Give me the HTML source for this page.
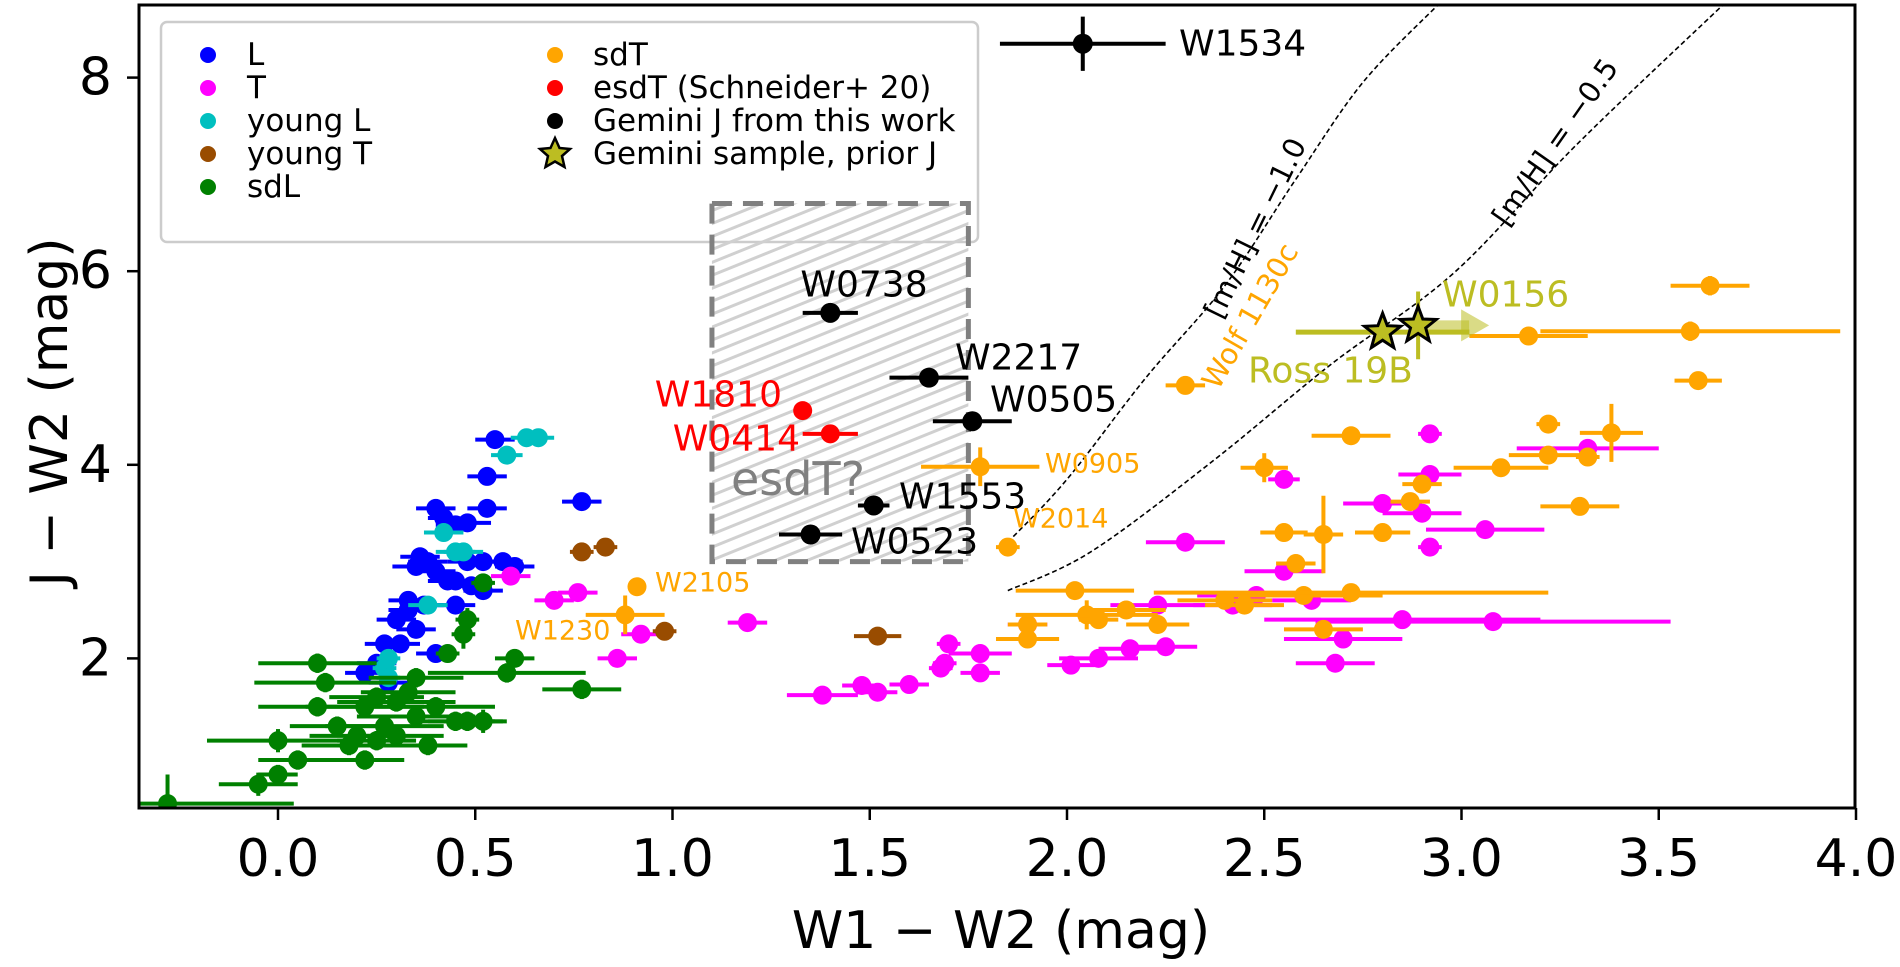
<!DOCTYPE html>
<html><head><meta charset="utf-8">
<style>
html,body{margin:0;padding:0;background:#fff;}
svg{display:block;font-family:"DejaVu Sans","Liberation Sans",sans-serif;}
</style></head>
<body>
<svg id="chart" width="1900" height="967" viewBox="0 0 1900 967" xmlns="http://www.w3.org/2000/svg">
<defs>
<pattern id="hatch" patternUnits="userSpaceOnUse" width="12" height="12" patternTransform="rotate(-22)">
<line x1="0" y1="6" x2="12" y2="6" stroke="#d0d0d0" stroke-width="3"/>
</pattern>
<clipPath id="plotclip"><rect x="139" y="5" width="1716" height="803"/></clipPath>
</defs>
<g id="legend">
<rect x="161" y="22" width="817" height="220" rx="6" fill="#fff" stroke="#ccc" stroke-width="2.5"/>
</g>
<g id="plot" clip-path="url(#plotclip)"></g>
<rect x="139" y="5" width="1716" height="803" fill="none" stroke="#000" stroke-width="3"/>
<g id="axes"></g>
<text x="1001" y="948" font-size="52" text-anchor="middle">W1 − W2 (mag)</text>
<text transform="translate(50,412) rotate(-90)" font-size="52" text-anchor="middle" dominant-baseline="central">J − W2 (mag)</text>
</svg>
<script>
// ---- axis domain ----
const xTicks = [0.0, 0.5, 1.0, 1.5, 2.0, 2.5, 3.0, 3.5, 4.0];
const xTickLabels = ["0.0","0.5","1.0","1.5","2.0","2.5","3.0","3.5","4.0"];
const yTicks = [2, 4, 6, 8];
const yTickLabels = ["2","4","6","8"];
// ---- series: [x, y, xerr, yerr] ----
const seriesL = [[0.53,3.88,0.05,0.05],[0.55,4.26,0.05,0.05],[0.40,3.55,0.05,0.05],[0.53,3.55,0.05,0.05],[0.45,3.38,0.05,0.05],[0.42,3.45,0.04,0.05],[0.48,3.40,0.06,0.05],[0.36,3.05,0.05,0.05],[0.38,3.00,0.05,0.05],[0.35,2.95,0.06,0.05],[0.48,3.00,0.05,0.05],[0.52,3.00,0.05,0.05],[0.57,3.00,0.05,0.05],[0.40,2.90,0.05,0.05],[0.43,2.80,0.05,0.05],[0.45,2.80,0.05,0.05],[0.49,2.75,0.05,0.05],[0.52,2.70,0.05,0.05],[0.33,2.60,0.05,0.05],[0.37,2.55,0.05,0.05],[0.45,2.55,0.05,0.05],[0.30,2.40,0.05,0.05],[0.35,2.30,0.05,0.05],[0.27,2.15,0.05,0.05],[0.31,2.15,0.05,0.05],[0.40,2.05,0.05,0.05],[0.25,1.95,0.05,0.05],[0.22,1.85,0.05,0.05],[0.77,3.62,0.05,0.05],[0.60,2.95,0.05,0.05],[0.33,2.50,0.05,0.05],[0.28,1.75,0.05,0.05]];
const seriesT = [[0.59,2.85,0.05,0.05],[0.70,2.60,0.05,0.05],[0.76,2.68,0.05,0.05],[0.92,2.25,0.05,0.05],[0.86,2.00,0.05,0.05],[1.19,2.37,0.05,0.05],[1.38,1.62,0.09,0.05],[1.48,1.72,0.05,0.05],[1.52,1.65,0.05,0.05],[1.60,1.73,0.05,0.05],[1.69,1.95,0.03,0.05],[1.70,2.15,0.03,0.05],[1.68,1.90,0.03,0.05],[1.78,2.05,0.08,0.05],[1.78,1.85,0.05,0.05],[1.90,2.35,0.05,0.05],[2.01,1.93,0.06,0.05],[2.08,2.00,0.10,0.05],[2.16,2.10,0.08,0.05],[2.25,2.12,0.08,0.05],[2.23,2.55,0.12,0.05],[2.30,3.20,0.10,0.05],[2.42,2.55,0.10,0.05],[2.55,2.90,0.10,0.05],[2.62,2.60,0.10,0.05],[2.68,1.95,0.10,0.05],[2.70,2.20,0.15,0.05],[2.55,3.85,0.04,0.05],[2.80,3.60,0.10,0.05],[2.85,2.40,0.35,0.05],[2.90,3.50,0.10,0.05],[2.92,3.90,0.08,0.05],[2.92,4.32,0.03,0.05],[2.92,3.15,0.03,0.05],[3.06,3.33,0.15,0.05],[3.32,4.17,0.18,0.05],[3.08,2.38,0.45,0.05],[2.48,2.65,0.15,0.05]];
const seriesYoungL = [[0.63,4.28,0.04,0.04],[0.66,4.28,0.04,0.04],[0.58,4.10,0.04,0.04],[0.42,3.30,0.05,0.04],[0.45,3.10,0.05,0.04],[0.47,3.10,0.05,0.04],[0.38,2.55,0.05,0.04],[0.28,2.00,0.03,0.04],[0.27,1.90,0.03,0.04],[0.28,1.80,0.03,0.04]];
const seriesYoungT = [[0.77,3.10,0.03,0.04],[0.83,3.15,0.03,0.04],[0.98,2.28,0.03,0.04],[1.52,2.23,0.06,0.04]];
const seriesSdL = [[-0.28,0.50,0.32,0.30],[-0.05,0.70,0.10,0.12],[0.00,0.80,0.05,0.10],[0.00,1.15,0.18,0.12],[0.05,0.95,0.10,0.10],[0.10,1.50,0.15,0.10],[0.10,1.95,0.15,0.10],[0.15,1.30,0.12,0.10],[0.12,1.75,0.18,0.10],[0.20,1.20,0.12,0.10],[0.22,1.50,0.15,0.10],[0.18,1.10,0.12,0.10],[0.25,1.60,0.12,0.10],[0.27,1.30,0.15,0.10],[0.30,1.20,0.12,0.10],[0.30,1.55,0.15,0.10],[0.33,1.65,0.12,0.10],[0.35,1.80,0.12,0.10],[0.35,1.40,0.15,0.10],[0.38,1.10,0.10,0.10],[0.40,1.50,0.15,0.10],[0.45,1.35,0.10,0.10],[0.48,1.35,0.10,0.10],[0.52,1.35,0.05,0.12],[0.47,2.25,0.03,0.15],[0.48,2.40,0.03,0.12],[0.52,2.78,0.03,0.05],[0.43,2.05,0.03,0.05],[0.58,1.85,0.20,0.10],[0.60,2.00,0.05,0.08],[0.77,1.68,0.10,0.10],[0.25,1.15,0.10,0.10],[0.22,0.95,0.10,0.10]];
const seriesSdT = [[1.78,3.98,0.15,0.20],[1.85,3.15,0.03,0.05],[2.02,2.70,0.15,0.05],[2.05,2.45,0.18,0.15],[2.08,2.40,0.05,0.05],[1.90,2.35,0.05,0.05],[1.90,2.20,0.08,0.05],[2.15,2.50,0.10,0.05],[2.23,2.35,0.08,0.05],[2.30,4.82,0.05,0.05],[2.40,2.60,0.12,0.05],[2.45,2.55,0.10,0.05],[2.50,3.97,0.06,0.15],[2.55,3.30,0.06,0.05],[2.58,2.98,0.05,0.05],[2.60,2.65,0.20,0.05],[2.65,3.28,0.05,0.40],[2.65,2.30,0.10,0.05],[2.72,4.30,0.10,0.05],[2.72,2.68,0.50,0.05],[2.80,3.30,0.07,0.05],[2.87,3.62,0.05,0.05],[2.90,3.80,0.05,0.05],[3.10,3.97,0.12,0.05],[3.22,4.42,0.03,0.05],[3.22,4.10,0.10,0.05],[3.32,4.08,0.03,0.05],[3.38,4.33,0.08,0.30],[3.30,3.57,0.10,0.05],[3.17,5.33,0.15,0.05],[3.58,5.38,0.38,0.10],[3.63,5.85,0.10,0.10],[3.60,4.87,0.06,0.05],[0.91,2.74,0.02,0.05],[0.88,2.45,0.10,0.20]];
const seriesEsdT = [[1.33,4.56,0.0,0.0],[1.40,4.32,0.07,0.08]];
const seriesGemini = [[2.04,8.35,0.21,0.28],[1.40,5.57,0.07,0.10],[1.65,4.90,0.10,0.05],[1.76,4.45,0.10,0.05],[1.51,3.58,0.04,0.05],[1.35,3.28,0.08,0.05]];
const seriesStars = [[2.80,5.37,0.22,0.0],[2.89,5.44,0.0,0.35]];
const starArrowTo = 3.07;
// ---- metallicity tracks ----
const trackM10X = [1.85, 2.00, 2.20, 2.40, 2.58, 2.75, 2.94];
const trackM10Y = [3.20, 3.85, 4.90, 5.85, 6.95, 7.95, 8.75];
const trackM05X = [1.85, 2.06, 2.37, 2.67, 2.98, 3.29, 3.66];
const trackM05Y = [2.70, 3.10, 4.04, 5.04, 5.98, 7.30, 8.74];
// ---- esdT region ----
const boxX = [1.10, 1.75];
const boxY = [3.00, 6.70];

const X = v => 278 + v * 394.5;
const Y = v => 852 - v * 96.8;
const NS = "http://www.w3.org/2000/svg";
const plot = document.getElementById('plot');
const axes = document.getElementById('axes');
function mk(tag, attrs, parent) {
  const e = document.createElementNS(NS, tag);
  for (const k in attrs) e.setAttribute(k, attrs[k]);
  parent.appendChild(e);
  return e;
}
xTicks.forEach((t, i) => {
  const tk = mk('line', {x1: X(t), x2: X(t), y1: 808, y2: 820, stroke: '#000', 'stroke-width': 2.5}, axes);
  
  
  const lb = mk('text', {x: X(t), y: 876, 'font-size': 52, 'text-anchor': 'middle'}, axes);
  lb.textContent = xTickLabels[i];
  
  
});
yTicks.forEach((t, i) => {
  const tk = mk('line', {x1: 127, x2: 139, y1: Y(t), y2: Y(t), stroke: '#000', 'stroke-width': 2.5}, axes);
  
  
  const lb = mk('text', {x: 112, y: Y(t), 'font-size': 52, 'text-anchor': 'end', 'dominant-baseline': 'central'}, axes);
  lb.textContent = yTickLabels[i];
  
  
});
const box = mk('rect', {x: X(boxX[0]), y: Y(boxY[1]), width: X(boxX[1]) - X(boxX[0]), height: Y(boxY[0]) - Y(boxY[1]), fill: 'url(#hatch)', stroke: '#808080', 'stroke-width': 5, 'stroke-dasharray': '20 11'}, plot);


function track(xs, ys, name) {
  let d = 'M' + X(xs[0]) + ' ' + Y(ys[0]);
  for (let i = 1; i < xs.length; i++) {
    const p0 = [X(xs[Math.max(i - 2, 0)]), Y(ys[Math.max(i - 2, 0)])];
    const p1 = [X(xs[i - 1]), Y(ys[i - 1])];
    const p2 = [X(xs[i]), Y(ys[i])];
    const p3 = [X(xs[Math.min(i + 1, xs.length - 1)]), Y(ys[Math.min(i + 1, xs.length - 1)])];
    const c1 = [p1[0] + (p2[0] - p0[0]) / 6, p1[1] + (p2[1] - p0[1]) / 6];
    const c2 = [p2[0] - (p3[0] - p1[0]) / 6, p2[1] - (p3[1] - p1[1]) / 6];
    d += ` C${c1[0]} ${c1[1]} ${c2[0]} ${c2[1]} ${p2[0]} ${p2[1]}`;
  }
  const p = mk('path', {d: d, fill: 'none', stroke: '#000', 'stroke-width': 1.6, 'stroke-dasharray': '5 3'}, plot);
  
  
}
track(trackM10X, trackM10Y, 'track-mh-minus-1');
track(trackM05X, trackM05Y, 'track-mh-minus-0.5');
function series(data, color, name, r) {
  const g = mk('g', {}, plot);
  
  
  data.forEach(p => {
    const cx = X(p[0]), cy = Y(p[1]);
    if (p[2] > 0) mk('line', {x1: X(p[0] - p[2]), x2: X(p[0] + p[2]), y1: cy, y2: cy, stroke: color, 'stroke-width': 4}, g);
    if (p[3] > 0) mk('line', {x1: cx, x2: cx, y1: Y(p[1] - p[3]), y2: Y(p[1] + p[3]), stroke: color, 'stroke-width': 4}, g);
    const c = mk('circle', {cx: cx, cy: cy, r: r, fill: color}, g);
    
    
  });
}
series(seriesL, '#0000ff', 'series-l', 9.5);
series(seriesYoungL, '#00bfbf', 'series-young-l', 9.5);
series(seriesSdL, '#008000', 'series-sdl', 9.5);
series(seriesT, '#ff00ff', 'series-t', 9.5);
series(seriesYoungT, '#994c00', 'series-young-t', 9.5);
series(seriesSdT, '#ffa500', 'series-sdt', 9.5);
series(seriesEsdT, '#ff0000', 'series-esdt', 9.5);
series(seriesGemini, '#000000', 'series-gemini', 10);
function starPath(cx, cy, R) {
  let d = '';
  for (let i = 0; i < 10; i++) {
    const a = -Math.PI / 2 + i * Math.PI / 5;
    const rr = i % 2 ? R * 0.42 : R;
    d += (i ? 'L' : 'M') + (cx + rr * Math.cos(a)).toFixed(1) + ' ' + (cy + rr * Math.sin(a)).toFixed(1);
  }
  return d + 'Z';
}
const sg = mk('g', {}, plot);


const arY = Y(seriesStars[1][1]);
mk('line', {x1: X(seriesStars[1][0]), x2: X(starArrowTo) - 20, y1: arY, y2: arY, stroke: '#bcbd22', 'stroke-opacity': 0.55, 'stroke-width': 10}, sg);
mk('path', {d: `M${X(starArrowTo)} ${arY} L${X(starArrowTo) - 28} ${arY - 16} L${X(starArrowTo) - 28} ${arY + 16}Z`, fill: '#bcbd22', 'fill-opacity': 0.55}, sg);
seriesStars.forEach(p => {
  const cx = X(p[0]), cy = Y(p[1]);
  if (p[2] > 0) mk('line', {x1: X(p[0] - p[2]), x2: X(p[0] + p[2]), y1: cy, y2: cy, stroke: '#bcbd22', 'stroke-width': 5}, sg);
  if (p[3] > 0) mk('line', {x1: cx, x2: cx, y1: Y(p[1] - p[3]), y2: Y(p[1] + p[3]), stroke: '#bcbd22', 'stroke-width': 4}, sg);
});
seriesStars.forEach(p => {
  const s = mk('path', {d: starPath(X(p[0]), Y(p[1]), 19), fill: '#bcbd22', stroke: '#000', 'stroke-width': 3}, sg);
  
  
});
</script>
<svg style="position:absolute;left:0;top:0" width="1900" height="967" xmlns="http://www.w3.org/2000/svg" font-family="DejaVu Sans, Liberation Sans, sans-serif">
<g>
<text x="1179" y="44" font-size="36" dominant-baseline="central">W1534</text>
<text x="864" y="285" font-size="36" text-anchor="middle" dominant-baseline="central">W0738</text>
<text x="955" y="358" font-size="36" dominant-baseline="central">W2217</text>
<text x="990" y="400" font-size="36" dominant-baseline="central">W0505</text>
<text x="899" y="497" font-size="36" dominant-baseline="central">W1553</text>
<text x="851" y="542" font-size="36" dominant-baseline="central">W0523</text>
<text x="782" y="395" font-size="36" fill="#ff0000" text-anchor="end" dominant-baseline="central">W1810</text>
<text x="800" y="439" font-size="36" fill="#ff0000" text-anchor="end" dominant-baseline="central">W0414</text>
<text x="731" y="479" font-size="46" fill="#808080" dominant-baseline="central">esdT?</text>
<text x="1442" y="295" font-size="36" fill="#bcbd22" dominant-baseline="central">W0156</text>
<text x="1248" y="371" font-size="36" fill="#bcbd22" dominant-baseline="central">Ross 19B</text>
<text x="1045" y="464" font-size="27" fill="#ffa500" dominant-baseline="central">W0905</text>
<text x="1013" y="519" font-size="27" fill="#ffa500" dominant-baseline="central">W2014</text>
<text x="655" y="583" font-size="27" fill="#ffa500" dominant-baseline="central">W2105</text>
<text x="515" y="631" font-size="27" fill="#ffa500" dominant-baseline="central">W1230</text>
<text transform="translate(1250,316) rotate(-60)" font-size="29" fill="#ffa500" text-anchor="middle" dominant-baseline="central">Wolf 1130c</text>
<text transform="translate(1255,228) rotate(-64)" font-size="29" text-anchor="middle" dominant-baseline="central">[m/H] = −1.0</text>
<text transform="translate(1555,142) rotate(-55)" font-size="29" text-anchor="middle" dominant-baseline="central">[m/H] = −0.5</text>
</g>
<g font-size="31">
<g><circle cx="208" cy="55" r="8" fill="#0000ff"/><text x="247" y="55" dominant-baseline="central">L</text></g>
<g><circle cx="208" cy="88" r="8" fill="#ff00ff"/><text x="247" y="88" dominant-baseline="central">T</text></g>
<g><circle cx="208" cy="121" r="8" fill="#00bfbf"/><text x="247" y="121" dominant-baseline="central">young L</text></g>
<g><circle cx="208" cy="154" r="8" fill="#994c00"/><text x="247" y="154" dominant-baseline="central">young T</text></g>
<g><circle cx="208" cy="187" r="8" fill="#008000"/><text x="247" y="187" dominant-baseline="central">sdL</text></g>
<g><circle cx="555" cy="55" r="8" fill="#ffa500"/><text x="593" y="55" dominant-baseline="central">sdT</text></g>
<g><circle cx="555" cy="88" r="8" fill="#ff0000"/><text x="593" y="88" dominant-baseline="central">esdT (Schneider+ 20)</text></g>
<g><circle cx="555" cy="121" r="8" fill="#000"/><text x="593" y="121" dominant-baseline="central">Gemini J from this work</text></g>
<g><path d="M555 138 L559.5 148 L570 149 L562 156 L564.5 167 L555 161.5 L545.5 167 L548 156 L540 149 L550.5 148Z" fill="#bcbd22" stroke="#000" stroke-width="2.5"/><text x="593" y="154" dominant-baseline="central">Gemini sample, prior J</text></g>
</g>
</svg>
</body></html>
